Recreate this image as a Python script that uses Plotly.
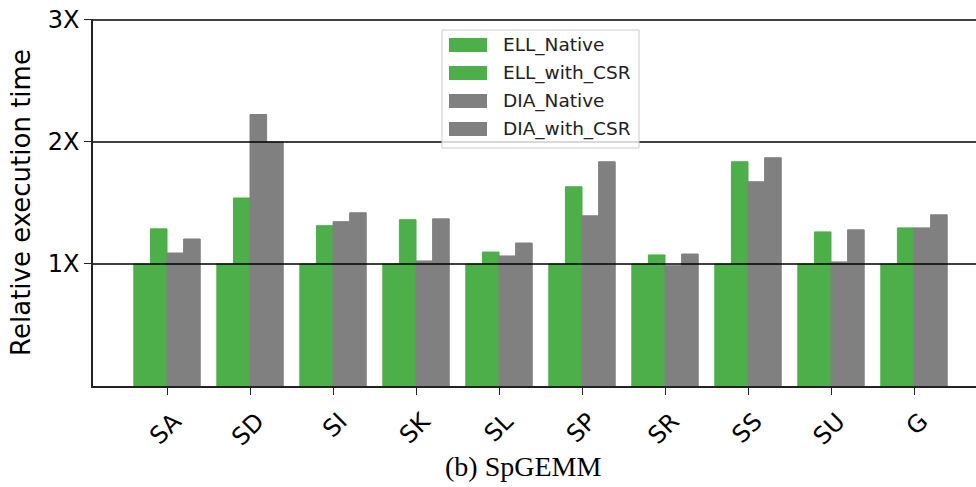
import plotly.graph_objects as go

categories = ["SA", "SD", "SI", "SK", "SL", "SP", "SR", "SS", "SU", "G"]
ell_native = [1.0, 1.0, 1.0, 1.0, 1.0, 1.0, 1.0, 1.0, 1.0, 1.0]
ell_with_csr = [1.288, 1.541, 1.314, 1.363, 1.098, 1.633, 1.074, 1.838, 1.263, 1.296]
dia_native = [1.09, 2.225, 1.347, 1.025, 1.066, 1.395, 0.986, 1.674, 1.017, 1.296]
dia_with_csr = [1.205, 2.0, 1.42, 1.37, 1.172, 1.838, 1.082, 1.871, 1.28, 1.403]
series_names = ["ELL_Native", "ELL_with_CSR", "DIA_Native", "DIA_with_CSR"]
series_values = [ell_native, ell_with_csr, dia_native, dia_with_csr]
series_colors = ["#4daf4a", "#4daf4a", "#808080", "#808080"]
ytick_vals = [1, 2, 3]
ytick_text = ["1X", "2X", "3X"]
caption = "(b) SpGEMM"

fig = go.Figure()
for name, vals, col in zip(series_names, series_values, series_colors):
    fig.add_trace(go.Bar(x=categories, y=vals, name=name,
                         marker=dict(color=col, line=dict(width=1, color=col)),
                         showlegend=False))

# horizontal reference lines
for v in ytick_vals:
    fig.add_shape(type="line", xref="x domain", yref="y", x0=0, x1=1, y0=v, y1=v,
                  line=dict(color="black", width=1.6), layer="above")

# custom legend (matplotlib style)
L, T = 93, 19
W, H = 883, 367
def px(x):
    return (x - L) / W
def py(y):
    return (T + H - y) / H

fig.add_shape(type="rect", xref="paper", yref="paper", x0=px(442), x1=px(639), y0=py(148), y1=py(30),
              line=dict(color="#cccccc", width=1), fillcolor="rgba(255,255,255,0.8)", layer="above")
row_y = [45, 73, 101, 129]
for name, col, ry in zip(series_names, series_colors, row_y):
    fig.add_shape(type="rect", xref="paper", yref="paper", x0=px(449), x1=px(487), y0=py(ry + 7), y1=py(ry - 7),
                  line=dict(width=0), fillcolor=col, layer="above")
    fig.add_annotation(xref="paper", yref="paper", x=px(501), y=py(ry), text=name, showarrow=False,
                       xanchor="left", yanchor="middle", font=dict(family="DejaVu Sans", size=18.5, color="#222"))

fig.add_annotation(xref="paper", yref="paper", x=px(523), y=py(466), text=caption, showarrow=False,
                   xanchor="center", yanchor="middle",
                   font=dict(family="Liberation Serif", size=28, color="black"))

fig.update_layout(
    width=976, height=487,
    margin=dict(l=L, r=0, t=T, b=487 - T - H, pad=0),
    plot_bgcolor="white", paper_bgcolor="white",
    barmode="group", bargap=0.2, bargroupgap=0,
    font=dict(family="DejaVu Sans", color="black"),
)
fig.update_xaxes(
    range=[-0.892, 9.747], showline=True, linecolor="#222", linewidth=1.5,
    ticks="outside", ticklen=7, tickwidth=1.3, tickcolor="#222",
    tickangle=-45, tickfont=dict(size=24, family="DejaVu Sans", color="black"),
    ticklabelshift=7, ticklabelstandoff=3,
    showgrid=False, zeroline=False,
)
fig.update_yaxes(
    range=[0, 3.008], showline=True, linecolor="#222", linewidth=1.5,
    tickvals=ytick_vals, ticktext=ytick_text,
    ticks="outside", ticklen=7, tickwidth=1.3, tickcolor="#222",
    tickfont=dict(size=24, family="DejaVu Sans", color="black"),
    title=dict(text="Relative execution time", font=dict(size=26, family="DejaVu Sans", color="black"), standoff=10),
    showgrid=False, zeroline=False,
)

fig.write_html("out.html")
